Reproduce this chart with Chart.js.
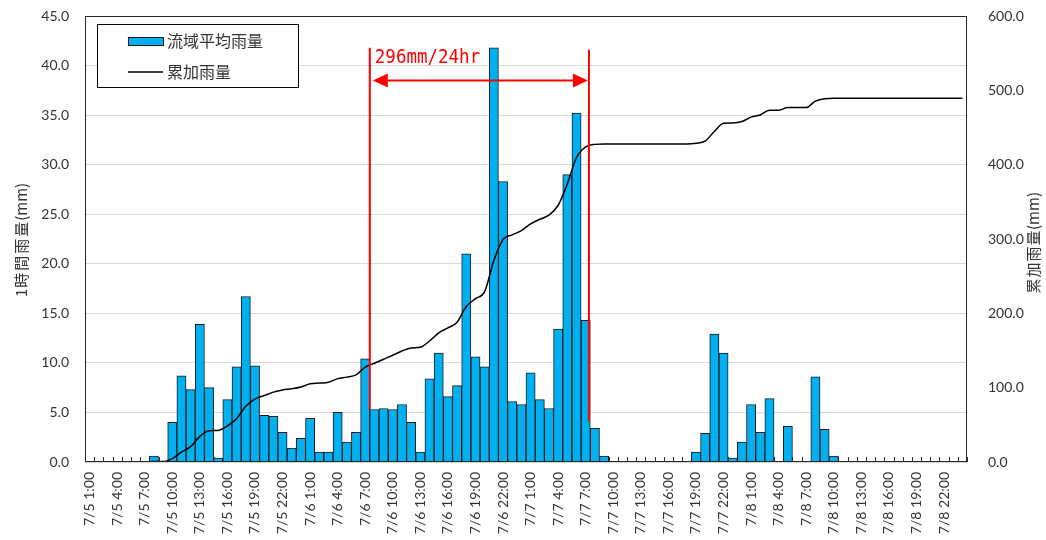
<!DOCTYPE html>
<html><head><meta charset="utf-8">
<script src="https://cdn.jsdelivr.net/npm/chart.js@4.4.1/dist/chart.umd.min.js"></script>
<style>html,body{margin:0;padding:0;background:#fff;}#wrap{width:1046px;height:540px;}</style>
</head><body><div id="wrap"><canvas id="c" width="1046" height="540"></canvas></div>
<script>
const days = ['7/5','7/6','7/7','7/8'];
const hours = ['1:00','2:00','3:00','4:00','5:00','6:00','7:00','8:00','9:00','10:00','11:00','12:00',
  '13:00','14:00','15:00','16:00','17:00','18:00','19:00','20:00','21:00','22:00','23:00','24:00'];
const categories = [];
days.forEach(d => hours.forEach(h => categories.push(d + ' ' + h)));

const rain = [
  0,0,0,0,0,0,0,0.6,0,4.0,8.7,7.3,13.9,7.5,0.4,6.3,9.6,16.7,9.7,4.7,4.6,3.0,1.4,2.4,
  4.4,1.0,1.0,5.0,2.0,3.0,10.4,5.3,5.4,5.3,5.8,4.0,1.0,8.4,11.0,6.6,7.7,21.0,10.6,9.6,41.8,28.3,6.1,5.8,
  9.0,6.3,5.4,13.4,29.0,35.2,14.3,3.4,0.6,0,0,0,0,0,0,0,0,0,1.0,2.9,12.9,11.0,0.4,2.0,
  5.8,3.0,6.4,0,3.6,0,0,8.6,3.3,0.6,0,0,0,0,0,0,0,0,0,0,0,0,0,0
];
const cumulative = [
  0,0,0,0,0,0,0,0.6,0.6,4.6,13.3,20.6,34.5,42.0,42.4,48.7,58.3,75.0,84.7,89.4,94.0,97.0,98.4,100.8,
  105.2,106.2,107.2,112.2,114.2,117.2,127.6,132.9,138.3,143.6,149.4,153.4,154.4,162.8,173.8,180.4,188.1,209.1,219.7,229.3,271.1,299.4,305.5,311.3,
  320.3,326.6,332.0,345.4,374.4,409.6,423.9,427.3,427.9,427.9,427.9,427.9,427.9,427.9,427.9,427.9,427.9,427.9,428.9,431.8,444.7,455.7,456.1,458.1,
  463.9,466.9,473.3,473.3,476.9,476.9,476.9,485.5,488.8,489.4,489.4,489.4,489.4,489.4,489.4,489.4,489.4,489.4,489.4,489.4,489.4,489.4,489.4,489.4
];
const seriesNames = ['流域平均雨量','累加雨量'];
const axisTitles = ['1時間雨量(mm)','累加雨量(mm)'];
const spanLabel = '296mm/24hr';
// annotation anchors (category units / left-axis values)
const spanFrom = 30.5, spanTo = 54.35;
const spanTopL = 41.8, spanTopR = 41.6, spanBotL = 5.3, spanBotR = 4.1;
const arrowLevel = 38.5, labelLevel = 40.25;

const BLUE = '#00B0F0';
const CJK = '"Noto Sans CJK JP", "Noto Sans", sans-serif';

function drawVTitle(ctx, text, cx, cy, size, cjkAdv) {
  ctx.save();
  ctx.font = size + 'px ' + CJK;
  ctx.textAlign = 'left'; ctx.textBaseline = 'middle';
  const chars = Array.from(text);
  const isCJK = c => c.charCodeAt(0) > 0x2E80;
  const adv = chars.map(c => isCJK(c) ? cjkAdv : ctx.measureText(c).width);
  const total = adv.reduce((s, v) => s + v, 0);
  ctx.translate(cx, cy); ctx.rotate(-Math.PI / 2);
  let p = -total / 2;
  chars.forEach((c, i) => {
    const off = isCJK(c) ? (cjkAdv - ctx.measureText(c).width) / 2 : 0;
    ctx.fillText(c, p + off, 0);
    p += adv[i];
  });
  ctx.restore();
}

const deco = {
  id: 'deco',
  beforeDatasetsDraw(chart) {
    const {ctx, chartArea: a, scales: {x}} = chart;
    ctx.save();
    ctx.strokeStyle = '#333'; ctx.lineWidth = 1;
    for (let i = 0; i <= categories.length; i++) {
      const px = Math.round(x.getPixelForValue(i - 0.5)) + 0.5;
      ctx.beginPath(); ctx.moveTo(px, a.bottom); ctx.lineTo(px, a.bottom - 5); ctx.stroke();
    }
    ctx.restore();
  },
  afterDatasetsDraw(chart) {
    const {ctx, chartArea: a, scales: {x, y}} = chart;
    ctx.save();
    ctx.strokeStyle = '#262626'; ctx.lineWidth = 1;
    ctx.strokeRect(Math.round(a.left) + 0.5, Math.round(a.top) + 0.5, Math.round(a.width) - 1, Math.round(a.height) - 1);

    const xl = x.getPixelForValue(spanFrom), xr = x.getPixelForValue(spanTo);
    ctx.strokeStyle = '#FF0000'; ctx.fillStyle = '#FF0000'; ctx.lineWidth = 2;
    ctx.beginPath(); ctx.moveTo(xl, y.getPixelForValue(spanTopL)); ctx.lineTo(xl, y.getPixelForValue(spanBotL)); ctx.stroke();
    ctx.beginPath(); ctx.moveTo(xr, y.getPixelForValue(spanTopR)); ctx.lineTo(xr, y.getPixelForValue(spanBotR)); ctx.stroke();
    const ay = y.getPixelForValue(arrowLevel);
    const ah = 15, aw = 7;
    ctx.beginPath(); ctx.moveTo(xl + 3 + ah, ay); ctx.lineTo(xr - 1 - ah, ay); ctx.stroke();
    ctx.beginPath(); ctx.moveTo(xl + 3, ay); ctx.lineTo(xl + 3 + ah, ay - aw); ctx.lineTo(xl + 3 + ah, ay + aw); ctx.closePath(); ctx.fill();
    ctx.beginPath(); ctx.moveTo(xr - 1, ay); ctx.lineTo(xr - 1 - ah, ay - aw); ctx.lineTo(xr - 1 - ah, ay + aw); ctx.closePath(); ctx.fill();
    ctx.save();
    ctx.translate(xl + 5, y.getPixelForValue(labelLevel));
    ctx.scale(0.875, 1);
    ctx.font = '20px "DejaVu Sans Mono", monospace';
    ctx.textAlign = 'left'; ctx.textBaseline = 'alphabetic';
    ctx.fillText(spanLabel, 0, 0);
    ctx.restore();

    const lx = a.left + 12, ly = a.top + 8;
    ctx.fillStyle = '#fff'; ctx.fillRect(lx, ly, 201, 63);
    ctx.strokeStyle = '#000'; ctx.lineWidth = 1;
    ctx.strokeRect(lx + 0.5, ly + 0.5, 201, 63);
    ctx.fillStyle = BLUE; ctx.fillRect(lx + 31, ly + 13, 35, 8);
    ctx.strokeStyle = '#1a1a1a'; ctx.strokeRect(lx + 31.5, ly + 13.5, 35, 8);
    ctx.strokeStyle = '#000'; ctx.lineWidth = 1.5;
    ctx.beginPath(); ctx.moveTo(lx + 31, ly + 48); ctx.lineTo(lx + 66, ly + 48); ctx.stroke();
    ctx.fillStyle = '#333'; ctx.font = '16px ' + CJK; ctx.textAlign = 'left'; ctx.textBaseline = 'middle';
    ctx.fillText(seriesNames[0], lx + 70, ly + 17);
    ctx.fillText(seriesNames[1], lx + 70, ly + 48);

    ctx.fillStyle = '#333';
    drawVTitle(ctx, axisTitles[0], 21, 240, 15, 17);
    drawVTitle(ctx, axisTitles[1], 1033, 243, 15, 16);
    ctx.restore();
  }
};

function fixV(w) { return s => { s.width = w; s.paddingTop = 0; s.paddingBottom = 0; }; }

new Chart(document.getElementById('c'), {
  data: {
    labels: categories,
    datasets: [
      { type: 'line', label: seriesNames[1], data: cumulative, yAxisID: 'y2', borderColor: '#000', borderWidth: 1.5,
        pointRadius: 0, cubicInterpolationMode: 'monotone', order: 0 },
      { type: 'bar', label: seriesNames[0], data: rain, yAxisID: 'y', backgroundColor: BLUE, borderColor: '#1a1a1a',
        borderWidth: 1, barPercentage: 1, categoryPercentage: 1, order: 1 }
    ]
  },
  options: {
    responsive: false, devicePixelRatio: 1, animation: false,
    layout: { padding: { top: 16, left: 0, right: 0, bottom: 0 } },
    plugins: { legend: { display: false }, tooltip: { enabled: false } },
    scales: {
      x: {
        type: 'category', offset: true,
        grid: { display: false, drawTicks: false }, border: { display: false },
        ticks: { autoSkip: false, maxRotation: 90, minRotation: 90, padding: 10, color: '#333',
          font: { family: 'Lato', size: 14 },
          callback: (v, i) => (i % 3 === 0 ? categories[i] : '') },
        afterFit: s => { s.height = 78; s.paddingLeft = 0; s.paddingRight = 0; s.paddingTop = 0; s.paddingBottom = 0; }
      },
      y: {
        position: 'left', min: 0, max: 45,
        grid: { color: '#d9d9d9', lineWidth: 1, drawTicks: false }, border: { display: false },
        ticks: { stepSize: 5, padding: 16, color: '#333', font: { family: 'Lato', size: 14 },
          callback: v => Number(v).toFixed(1) },
        afterFit: fixV(85)
      },
      y2: {
        position: 'right', min: 0, max: 600,
        grid: { display: false, drawTicks: false }, border: { display: false },
        ticks: { stepSize: 100, padding: 21, color: '#333', font: { family: 'Lato', size: 14 },
          callback: v => Number(v).toFixed(1) },
        afterFit: fixV(79)
      }
    }
  },
  plugins: [deco]
});
</script></body></html>
